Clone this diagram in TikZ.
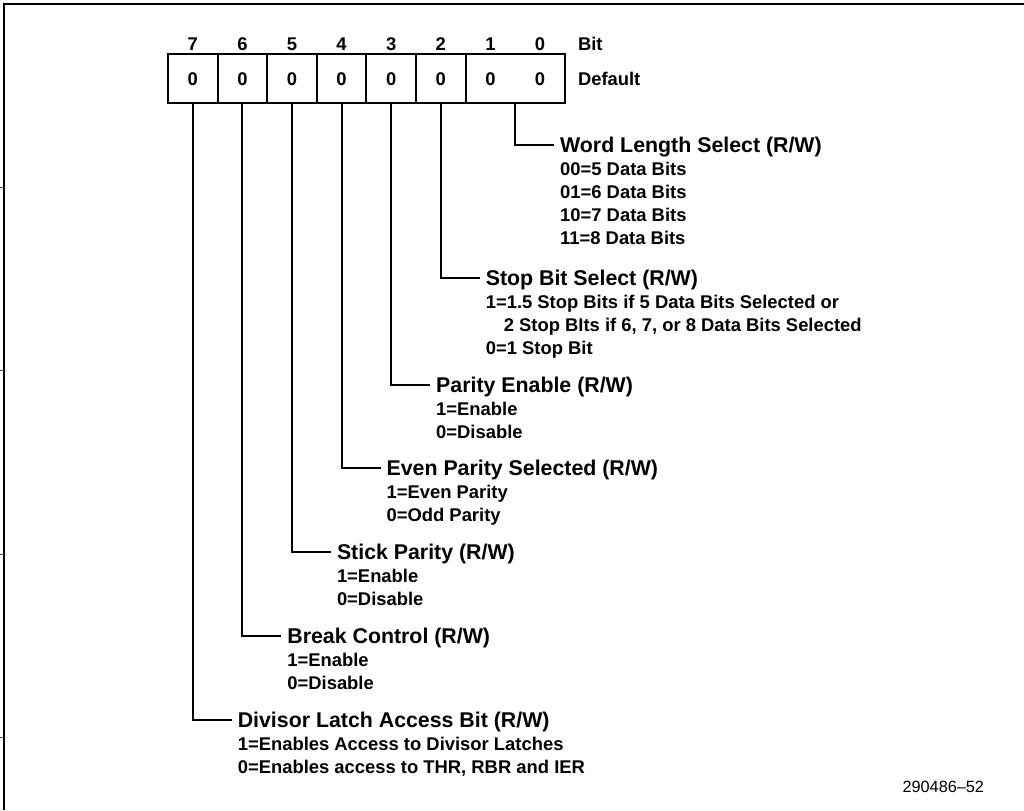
\documentclass[tikz,border=0pt]{standalone}
\usepackage{fontspec}
\setmainfont{Liberation Sans}
\begin{document}
\begin{tikzpicture}[x=0.75pt,y=-0.75pt,
  every node/.style={inner sep=0pt,outer sep=0pt},
  wire/.style={line width=1.5pt},
  cell/.style={draw,line width=1.5pt,minimum width=37.2pt,minimum height=36.75pt},
  wcell/.style={draw,line width=1.5pt,minimum width=74.4pt,minimum height=36.75pt},
  title/.style={anchor=west,inner xsep=4.5pt,font=\bfseries\fontsize{16}{19}\selectfont,text height=11.5pt,text depth=0pt},
  opt/.style={anchor=west,font=\bfseries\fontsize{13.8}{16}\selectfont,text height=9.9pt,text depth=0pt},
  digit/.style={font=\bfseries\fontsize{13.8}{16}\selectfont,text height=9.9pt,text depth=0pt},
  code/.style={anchor=east,font=\fontsize{12.2}{14}\selectfont,text height=8.7pt,text depth=0pt}]
\useasboundingbox (0,0) rectangle (1024,810);
% frame
\draw[line width=1.5pt] (1024,3.5) -- (3.5,3.5) -- (3.5,810);
\foreach \ty in {187,370,554,737} \draw[line width=0.6pt,black!70] (0,\ty) -- (3.5,\ty);
% register cells
\node[cell] (c7) at (192.8,78.5) {};
\node[cell] (c6) at (242.4,78.5) {};
\node[cell] (c5) at (292,78.5) {};
\node[cell] (c4) at (341.6,78.5) {};
\node[cell] (c3) at (391.2,78.5) {};
\node[cell] (c2) at (440.8,78.5) {};
\node[wcell] (c10) at (515.2,78.5) {};
% default values
\node[digit] (d7) at (192.8,78.5) {0};
\node[digit] (d6) at (242.4,78.5) {0};
\node[digit] (d5) at (292,78.5) {0};
\node[digit] (d4) at (341.6,78.5) {0};
\node[digit] (d3) at (391.2,78.5) {0};
\node[digit] (d2) at (440.8,78.5) {0};
\node[digit] (d1) at (490.4,78.5) {0};
\node[digit] (d0) at (540,78.5) {0};
\node[opt] (deflbl) at (578,78.5) {Default};
% bit numbers
\node[digit] (b7) at (192.8,44) {7};
\node[digit] (b6) at (242.4,44) {6};
\node[digit] (b5) at (292,44) {5};
\node[digit] (b4) at (341.6,44) {4};
\node[digit] (b3) at (391.2,44) {3};
\node[digit] (b2) at (440.8,44) {2};
\node[digit] (b1) at (490.4,44) {1};
\node[digit] (b0) at (540,44) {0};
\node[opt] (bitlbl) at (578,44) {Bit};
% Word length
\node[title] (tw) at (554.2,145) {Word Length Select (R/W)};
\node[opt] (tw1) at (560.2,169) {00=5 Data Bits};
\node[opt] (tw2) at (560.2,192) {01=6 Data Bits};
\node[opt] (tw3) at (560.2,215) {10=7 Data Bits};
\node[opt] (tw4) at (560.2,238) {11=8 Data Bits};
% Stop bit
\node[title] (ts) at (479.8,278) {Stop Bit Select (R/W)};
\node[opt] (ts1) at (485.8,302) {1=1.5 Stop Bits if 5 Data Bits Selected or};
\node[opt] (ts2) at (503.8,325) {2 Stop BIts if 6, 7, or 8 Data Bits Selected};
\node[opt] (ts3) at (485.8,348) {0=1 Stop Bit};
% Parity enable
\node[title] (tp) at (430.2,385) {Parity Enable (R/W)};
\node[opt] (tp1) at (436.2,409) {1=Enable};
\node[opt] (tp2) at (436.2,432) {0=Disable};
% Even parity
\node[title] (te) at (380.6,468) {Even Parity Selected (R/W)};
\node[opt] (te1) at (386.6,492) {1=Even Parity};
\node[opt] (te2) at (386.6,515) {0=Odd Parity};
% Stick parity
\node[title] (tk) at (331,552) {Stick Parity (R/W)};
\node[opt] (tk1) at (337,576) {1=Enable};
\node[opt] (tk2) at (337,599) {0=Disable};
% Break control
\node[title] (tb) at (281.4,636) {Break Control (R/W)};
\node[opt] (tb1) at (287.4,660) {1=Enable};
\node[opt] (tb2) at (287.4,683) {0=Disable};
% Divisor latch
\node[title] (td) at (231.8,720) {Divisor Latch Access Bit (R/W)};
\node[opt] (td1) at (237.8,744) {1=Enables Access to Divisor Latches};
\node[opt] (td2) at (237.8,767) {0=Enables access to THR, RBR and IER};
% figure code
\node[code] (fig) at (984,787) {290486–52};
% connectors
\draw[wire] (c10.south) |- (tw.west);
\draw[wire] (c2.south) |- (ts.west);
\draw[wire] (c3.south) |- (tp.west);
\draw[wire] (c4.south) |- (te.west);
\draw[wire] (c5.south) |- (tk.west);
\draw[wire] (c6.south) |- (tb.west);
\draw[wire] (c7.south) |- (td.west);
\end{tikzpicture}
\end{document}
